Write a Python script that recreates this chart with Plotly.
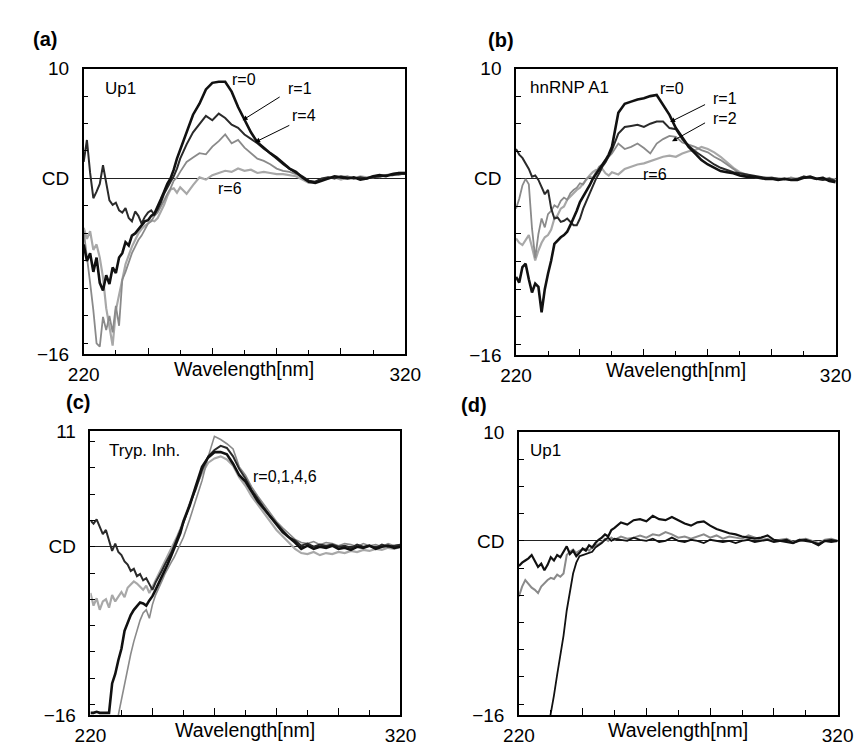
import plotly.graph_objects as go

# ---------------- data ----------------
WAVELENGTH = list(range(220, 251)) + list(range(252, 321, 2))

# panel (a) Up1
A_R0 = [-6.0, -7.5, -6.8, -8.5, -7.2, -9.5, -10.2, -8.8, -9.6, -8.1, -8.6, -7.2, -6.8, -5.8, -6.1, -5.2,
        -5.0, -4.6, -4.3, -3.9, -3.8, -3.4, -3.2, -2.6, -1.9, -1.2, -0.5, 0.0, 0.8, 1.8, 2.6,
        4.2, 5.8, 6.8, 8.1, 8.7, 8.8, 8.8, 7.9, 6.5, 5.3, 4.2, 3.3, 2.8, 2.3, 1.9, 1.4, 0.9, 0.6,
        0.1, -0.3, -0.4, -0.2, 0.0, 0.2, 0.1, 0.0, 0.1, -0.1, 0.0, 0.2, 0.3, 0.2, 0.4, 0.5, 0.5]
A_R1 = [1.5, 3.5, 0.5, -1.8, -1.2, -0.5, 1.2, -0.6, -2.0, -2.4, -2.2, -2.9, -3.1, -2.7, -3.6, -3.9,
        -3.0, -3.4, -4.1, -3.5, -3.1, -2.9, -3.3, -2.8, -2.2, -1.4, -0.8, -0.3, 0.2, 0.9, 1.8,
        3.1, 4.2, 4.9, 5.7, 5.3, 5.9, 5.5, 4.9, 4.6, 4.0, 3.6, 3.2, 2.7, 2.3, 1.8, 1.3, 0.9, 0.5,
        0.2, -0.2, -0.3, 0.0, 0.1, 0.0, 0.2, 0.1, 0.0, 0.1, 0.0, 0.1, 0.2, 0.3, 0.3, 0.4, 0.4]
A_R4 = [-4.8, -7.0, -9.5, -12.0, -15.0, -15.3, -12.6, -13.8, -12.5, -14.0, -11.6, -13.4, -9.2, -8.5,
        -7.6, -6.8, -6.2, -5.6, -5.2, -4.6, -4.1, -3.9, -3.4, -3.1, -2.6, -2.0, -1.4, -0.9, -0.2, 0.1, 0.6,
        1.5, 1.9, 2.3, 2.2, 2.9, 3.4, 4.0, 3.2, 3.5, 2.8, 2.3, 1.8, 1.6, 1.3, 0.9, 0.7, 0.6, 0.4,
        0.1, -0.2, -0.4, -0.1, 0.1, 0.0, 0.1, 0.2, 0.0, 0.1, 0.0, 0.2, 0.1, 0.3, 0.4, 0.3, 0.5]
A_R6 = [-4.5, -5.5, -4.8, -6.5, -6.0, -7.2, -9.0, -11.8, -13.5, -15.2, -12.0, -10.5, -9.0, -7.8,
        -7.0, -6.2, -5.6, -5.0, -4.6, -4.3, -4.1, -3.8, -3.9, -3.6, -3.0, -2.4, -1.6, -1.0, -0.9, -1.3, -0.8,
        -1.4, -0.6, 0.1, -0.1, 0.3, 0.5, 0.7, 0.6, 0.9, 0.7, 0.8, 0.5, 0.6, 0.5, 0.4, 0.4, 0.3, 0.2,
        -0.1, -0.4, -0.3, -0.1, 0.0, 0.1, -0.1, 0.1, 0.0, 0.2, 0.1, 0.1, 0.3, 0.3, 0.4, 0.5, 0.5]

# panel (b) hnRNP A1
B_R0 = [-8.9, -9.4, -8.0, -7.7, -9.1, -10.3, -9.5, -9.8, -12.1, -10.0, -8.6, -7.4, -5.9, -5.6, -5.3,
        -5.1, -4.8, -4.2, -3.6, -2.9, -2.1, -1.6, -1.2, -0.6, 0.0, 0.4, 0.8, 1.2, 1.7, 2.2, 2.9,
        6.0, 6.8, 7.0, 7.2, 7.3, 7.5, 7.6, 6.7, 5.8, 4.6, 3.8, 2.9, 2.3, 1.7, 1.3, 1.0, 0.7, 0.6,
        0.5, 0.3, 0.2, 0.2, 0.1, 0.0, 0.0, -0.1, 0.0, -0.1, -0.1, 0.1, 0.2, 0.0, 0.1, -0.2, -0.3]
B_R1 = [2.7, 2.2, 1.9, 1.4, 0.9, 0.2, 0.3, -0.1, -0.8, -1.4, -1.0, -2.7, -3.6, -3.5, -3.9, -3.8, -3.6,
        -3.9, -4.2, -4.2, -3.6, -2.7, -2.0, -1.4, -0.7, 0.0, 0.5, 1.1, 1.5, 2.0, 2.6,
        4.1, 4.7, 4.8, 4.9, 4.7, 5.0, 5.2, 5.2, 4.6, 4.5, 3.6, 3.0, 2.5, 2.1, 1.7, 1.3, 1.0, 0.8,
        0.6, 0.5, 0.4, 0.3, 0.2, 0.1, 0.1, 0.0, 0.0, -0.1, 0.0, 0.2, 0.1, 0.0, -0.1, 0.0, -0.2]
B_R2 = [-2.7, -1.8, -0.6, 0.0, -0.5, -4.5, -7.2, -5.0, -3.6, -4.4, -3.2, -2.9, -2.4, -2.6, -2.0, -1.7,
        -1.9, -1.3, -1.0, -0.8, -0.4, -0.5, 0.0, 0.2, 0.1, 0.6, 1.1, 1.3, 1.6, 2.0, 2.3,
        3.2, 2.7, 2.9, 3.2, 2.8, 2.3, 3.2, 3.6, 3.9, 3.8, 3.3, 3.1, 2.9, 2.6, 2.4, 2.0, 1.7, 1.3,
        0.9, 0.5, 0.3, 0.2, 0.1, 0.1, 0.0, -0.1, 0.0, 0.1, -0.1, 0.2, 0.1, 0.0, -0.1, 0.1, -0.2]
B_R6 = [-5.4, -5.8, -6.0, -5.6, -5.1, -6.2, -7.4, -6.5, -5.8, -5.3, -5.1, -4.6, -3.6, -3.3, -2.7, -2.5,
        -1.9, -1.6, -1.3, -1.0, -0.8, -0.4, -0.1, 0.3, 0.6, 0.8, 0.7, 0.9, 0.5, 0.3, 0.6,
        0.4, 0.9, 1.1, 1.3, 1.4, 1.6, 1.8, 2.0, 2.1, 2.0, 2.3, 2.5, 2.6, 2.9, 2.7, 2.4, 2.0, 1.5,
        1.0, 0.6, 0.4, 0.2, 0.1, 0.0, 0.1, 0.0, -0.1, 0.1, 0.0, 0.2, 0.1, 0.0, 0.1, -0.1, 0.0]

# panel (c) Tryp. Inh.
C_R0 = [-15.8, -15.8, -15.7, -15.8, -15.8, -15.8, -15.8, -13.0, -12.1, -10.8, -9.7, -8.0, -7.2, -6.5,
        -6.0, -5.6, -5.3, -5.4, -5.6, -5.1, -4.7, -4.1, -3.5, -2.9, -2.2, -1.6, -0.9, -0.1, 0.5, 1.3, 2.4,
        3.9, 5.8, 7.6, 8.5, 9.0, 9.0, 8.8, 7.9, 6.8, 6.2, 5.2, 4.3, 3.6, 2.9, 2.1, 1.4, 0.9, 0.4,
        -0.2, 0.1, -0.2, 0.0, -0.1, 0.1, -0.2, -0.1, -0.3, 0.0, -0.1, 0.1, -0.2, 0.0, 0.1, -0.1, 0.0]
C_R1 = [2.5, 2.2, 2.6, 1.8, 1.2, 1.6, 0.6, -0.4, 0.3, -0.5, -0.8, -1.4, -1.7, -2.3, -2.1, -2.8, -2.6,
        -3.2, -3.0, -3.5, -4.1, -3.4, -2.9, -2.3, -1.7, -1.2, -0.6, 0.1, 0.8, 1.5, 2.3,
        4.0, 5.5, 7.3, 8.6, 9.2, 9.6, 9.4, 8.6, 7.4, 6.5, 5.4, 4.5, 3.7, 2.9, 2.2, 1.5, 0.9, 0.6,
        0.1, 0.3, 0.0, 0.2, 0.1, 0.2, 0.0, 0.1, -0.1, 0.2, 0.0, 0.1, -0.1, 0.2, 0.0, 0.1, 0.2]
C_R4 = [-4.4, -5.6, -4.9, -6.0, -5.2, -5.0, -5.8, -4.6, -5.2, -4.7, -4.3, -4.8, -3.9, -3.6, -3.3, -3.5,
        -3.8, -4.1, -3.7, -4.4, -3.8, -3.2, -2.7, -2.1, -1.5, -0.9, -0.3, 0.4, 1.0, 1.7, 2.5,
        4.1, 5.7, 7.0, 8.0, 8.4, 8.6, 8.3, 7.7, 6.6, 5.8, 4.8, 4.0, 3.2, 2.4, 1.6, 1.0, 0.4, -0.2,
        -0.6, -0.7, -0.5, -0.8, -0.6, -0.7, -0.5, -0.6, -0.4, -0.5, -0.3, -0.4, -0.2, -0.3, -0.1, -0.2, 0.0]
C_R6 = [None, None, None, None, None, None, None, None, None, -16.0, -14.5, -13.0, -11.6, -10.2, -9.0,
        -8.0, -7.0, -6.3, -6.0, -6.8, -5.5, -4.6, -4.0, -3.3, -2.6, -2.0, -1.5, -1.0, -0.4, 0.2, 0.9,
        2.6, 4.4, 6.3, 8.6, 10.5, 10.2, 9.8, 9.3, 7.6, 6.8, 5.7, 4.8, 4.0, 3.1, 2.4, 1.8, 1.2, 0.7,
        0.4, 0.3, 0.5, 0.2, 0.4, 0.3, 0.1, 0.3, 0.2, 0.0, 0.3, 0.1, 0.2, 0.0, 0.3, 0.1, 0.2]

# panel (d) Up1
D_R0 = [-2.3, -2.0, -1.8, -1.6, -1.3, -1.9, -2.4, -2.1, -2.7, -2.2, -1.5, -1.8, -1.3, -1.5, -1.0, -0.5,
        -1.2, -0.9, -1.4, -1.1, -0.7, -0.9, -0.4, -0.6, -0.2, 0.1, 0.3, 0.6, 0.4, 1.0, 1.2,
        1.7, 1.5, 1.9, 2.0, 1.8, 2.3, 2.0, 1.9, 2.2, 1.9, 1.6, 1.4, 1.7, 1.8, 1.4, 1.1, 0.9, 0.7,
        0.6, 0.4, 0.3, 0.2, 0.3, 0.5, 0.1, 0.0, -0.1, -0.2, 0.1, 0.0, -0.1, -0.4, 0.0, -0.1, 0.0]
D_R1 = [-5.1, -4.2, -3.6, -4.0, -4.3, -4.5, -4.8, -4.2, -3.9, -3.6, -3.4, -3.5, -3.1, -3.3, -3.0, -1.3,
        -1.0, -0.8, -1.1, -0.9, -0.8, -0.7, -0.9, -0.6, -0.4, -0.3, -0.1, 0.2, 0.0, 0.3, 0.1,
        0.4, 0.2, 0.3, 0.5, 0.3, 0.6, 0.5, 0.8, 0.6, 0.3, 0.4, 0.2, 0.4, 0.6, 0.3, 0.5, 0.2, 0.4,
        0.3, 0.2, 0.5, 0.3, 0.1, 0.2, 0.0, 0.1, 0.2, -0.1, 0.1, 0.2, 0.0, -0.2, 0.1, 0.2, 0.0]
D_R2 = [None, None, None, None, None, None, None, None, None, -17.5, -16.0, -14.2, -12.3, -10.5, -8.7,
        -6.4, -4.6, -3.0, -2.0, -1.4, -1.3, -1.2, -1.1, -1.0, -0.6, -0.4, -0.2, 0.1, 0.3, 0.0, 0.2,
        0.1, 0.0, 0.3, 0.1, 0.0, 0.2, -0.1, 0.0, 0.3, 0.0, -0.1, 0.1, 0.0, -0.2, 0.1, 0.0, -0.1,
        0.0, -0.2, 0.0, 0.1, -0.1, 0.0, 0.1, -0.1, 0.0, 0.1, -0.2, 0.0, 0.1, -0.1, -0.3, 0.0, 0.1, 0.0]

for arr in [A_R0, A_R1, A_R4, A_R6, B_R0, B_R1, B_R2, B_R6, C_R0, C_R1, C_R4, C_R6, D_R0, D_R1, D_R2]:
    assert len(arr) == len(WAVELENGTH), len(arr)

X_TICKS = [220, 240, 260, 280, 300, 320]
X_TICKTEXT = ["220", "", "", "", "", "320"]

BLACK = "#111111"
DARK = "#2a2a2a"
GRAY = "#8a8a8a"
LIGHT = "#a8a8a8"

PANELS = [
    dict(letter="(a)", box=(62, 396, 52, 346), yr=(-16, 10), top="10", lpos=(22, 22),
         series=[(A_R6, LIGHT, 2.2), (A_R4, GRAY, 1.8), (A_R1, DARK, 2.0), (A_R0, BLACK, 2.6)]),
    dict(letter="(b)", box=(511, 843, 52, 347), yr=(-16, 10), top="10", lpos=(495, 23),
         series=[(B_R6, LIGHT, 2.2), (B_R2, GRAY, 1.8), (B_R1, DARK, 2.0), (B_R0, BLACK, 2.6)]),
    dict(letter="(c)", box=(69, 391, 425, 717), yr=(-16, 11), top="11", lpos=(56, 395),
         series=[(C_R4, LIGHT, 2.2), (C_R6, GRAY, 1.6), (C_R1, DARK, 2.0), (C_R0, BLACK, 2.6)]),
    dict(letter="(d)", box=(514, 845, 426, 717), yr=(-16, 10), top="10", lpos=(467, 398),
         series=[(D_R1, GRAY, 2.0), (D_R2, BLACK, 1.8), (D_R0, BLACK, 2.2)]),
]

W, H = 862, 751
FONT = "Liberation Sans, Arial, Helvetica, sans-serif"

fig = go.Figure()
layout = dict(width=W, height=H, margin=dict(l=0, r=0, t=0, b=0),
              paper_bgcolor="white", plot_bgcolor="white", showlegend=False,
              font=dict(family=FONT, color="black"))
annotations = []

for i, p in enumerate(PANELS, start=1):
    xn = "x" if i == 1 else f"x{i}"
    yn = "y" if i == 1 else f"y{i}"
    x0, x1, y0, y1 = p["box"]
    layout["xaxis" if i == 1 else f"xaxis{i}"] = dict(
        domain=[x0 / W, x1 / W], range=[220, 320], anchor=yn,
        showline=True, mirror=True, linecolor="black", linewidth=1.5,
        ticks="inside", ticklen=7, tickwidth=1.2, tickcolor="black",
        tickvals=X_TICKS, ticktext=X_TICKTEXT,
        minor=dict(tick0=220, dtick=10, ticks="inside", ticklen=5, tickwidth=1, tickcolor="black"),
        showgrid=False, zeroline=False, tickfont=dict(size=19, family=FONT, color="black"),
        ticklabelstandoff=2, fixedrange=True)
    layout["yaxis" if i == 1 else f"yaxis{i}"] = dict(
        domain=[1 - y1 / H, 1 - y0 / H], range=list(p["yr"]), anchor=xn,
        showline=True, mirror=True, linecolor="black", linewidth=1.5,
        ticks="inside", ticklen=5, tickwidth=1, tickcolor="black",
        tickvals=[p["yr"][0], 0, p["yr"][1]], ticktext=["\u221216", "CD", p["top"]],
        minor=dict(tick0=0, dtick=2.5, ticks="inside", ticklen=5, tickwidth=1, tickcolor="black"),
        showgrid=False, zeroline=True, zerolinecolor="#222222", zerolinewidth=1.2,
        tickfont=dict(size=19, family=FONT, color="black"), ticklabelstandoff=9, fixedrange=True)
    for ys, col, w in p["series"]:
        fig.add_trace(go.Scatter(x=WAVELENGTH, y=ys, xaxis=xn, yaxis=yn, mode="lines",
                                 line=dict(color=col, width=w), connectgaps=False, hoverinfo="skip"))
    annotations.append(dict(text="Wavelength[nm]", xref=f"{xn} domain", yref=f"{yn} domain",
                            x=0.5, y=0, xanchor="center", yanchor="top", yshift=-2, showarrow=False,
                            font=dict(size=19.5, family=FONT, color="black")))
    lx, ly = p["lpos"]
    annotations.append(dict(text=f"<b>{p['letter']}</b>", xref="paper", yref="paper",
                            x=lx / W, y=1 - ly / H, xanchor="center", yanchor="middle",
                            showarrow=False, font=dict(size=20, family=FONT, color="black")))

# in-panel text labels (data coordinates)
def label(xn, yn, x, y, text, anchor="center", size=16):
    annotations.append(dict(text=text, xref=xn, yref=yn, x=x, y=y, xanchor=anchor, yanchor="middle",
                            showarrow=False, font=dict(size=size, family=FONT, color="black")))

def arrow(xn, yn, tail, head):
    annotations.append(dict(text="", xref=xn, yref=yn, axref=xn, ayref=yn, x=head[0], y=head[1],
                            ax=tail[0], ay=tail[1], showarrow=True, arrowhead=2, arrowsize=1,
                            arrowwidth=1, arrowcolor="black"))

label("x", "y", 226.0, 8.2, "Up1", "left", 17)
label("x", "y", 269.7, 9.0, "r=0")
label("x", "y", 287.4, 8.2, "r=1")
label("x", "y", 288.6, 5.75, "r=4")
label("x", "y", 265.5, -0.9, "r=6")
arrow("x", "y", (281.4, 7.5), (269.4, 5.3))
arrow("x", "y", (284.4, 4.9), (273.3, 3.3))

label("x2", "y2", 223.6, 8.24, "hnRNP A1", "left", 17)
label("x2", "y2", 268.8, 8.2, "r=0")
label("x2", "y2", 285.4, 7.3, "r=1")
label("x2", "y2", 285.4, 5.5, "r=2")
label("x2", "y2", 263.4, 0.4, "r=6")
arrow("x2", "y2", (279.6, 6.8), (268.2, 5.15))
arrow("x2", "y2", (279.6, 5.15), (268.8, 3.4))

label("x3", "y3", 225.3, 9.15, "Tryp. Inh.", "left", 17)
label("x3", "y3", 282.7, 6.65, "r=0,1,4,6")

label("x4", "y4", 222.7, 8.3, "Up1", "left", 17)

layout["annotations"] = annotations
fig.update_layout(**layout)
fig.write_html("out.html")
